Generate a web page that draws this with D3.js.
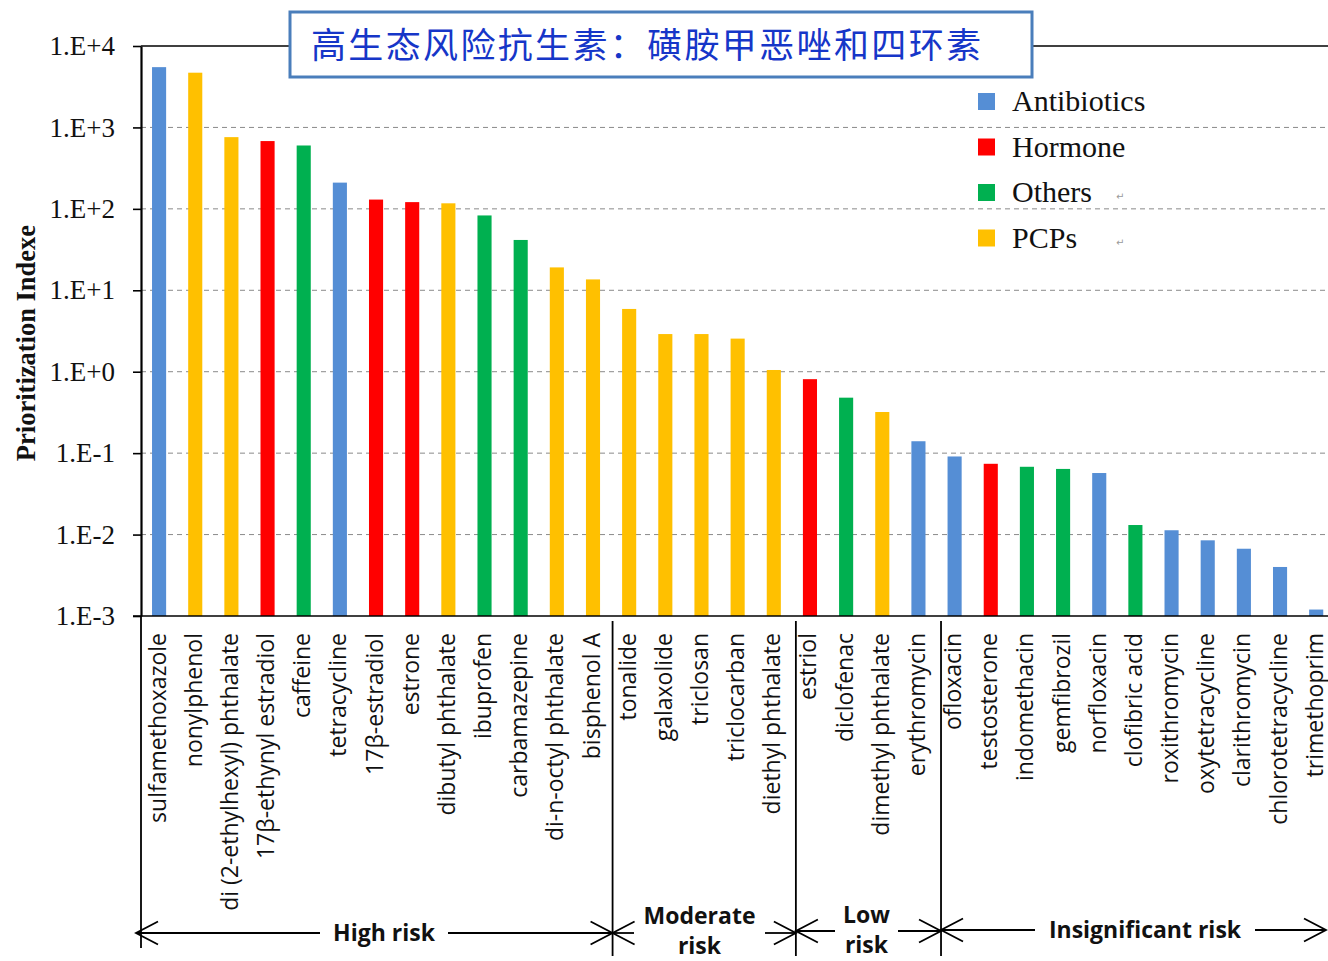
<!DOCTYPE html>
<html>
<head>
<meta charset="utf-8">
<script src="https://cdn.jsdelivr.net/npm/d3@7"></script>
<style>
  html, body { margin: 0; padding: 0; background: #fff; }
  svg { display: block; }
</style>
</head>
<body>
<svg id="chart" width="1328" height="961"></svg>
<script>
// Compounds ranked by prioritization index
const compounds = [
  "sulfamethoxazole", "nonylphenol", "di (2-ethylhexyl) phthalate", "17β-ethynyl estradiol",
  "caffeine", "tetracycline", "17β-estradiol", "estrone", "dibutyl phthalate", "ibuprofen",
  "carbamazepine", "di-n-octyl phthalate", "bisphenol A", "tonalide", "galaxolide", "triclosan",
  "triclocarban", "diethyl phthalate", "estriol", "diclofenac", "dimethyl phthalate",
  "erythromycin", "ofloxacin", "testosterone", "indomethacin", "gemfibrozil", "norfloxacin",
  "clofibric acid", "roxithromycin", "oxytetracycline", "clarithromycin", "chlorotetracycline",
  "trimethoprim"
];
const indexValues = [
  5500, 4700, 760, 680, 600, 210, 130, 121, 117, 83,
  41.5, 19.1, 13.6, 5.9, 2.9, 2.9, 2.55, 1.05, 0.81, 0.48,
  0.32, 0.14, 0.091, 0.074, 0.068, 0.064, 0.057, 0.0131, 0.0113, 0.0085,
  0.0067, 0.0040, 0.0012
];
const compoundClass = [
  "Antibiotics", "PCPs", "PCPs", "Hormone", "Others", "Antibiotics", "Hormone", "Hormone", "PCPs", "Others",
  "Others", "PCPs", "PCPs", "PCPs", "PCPs", "PCPs", "PCPs", "PCPs", "Hormone", "Others",
  "PCPs", "Antibiotics", "Antibiotics", "Hormone", "Others", "Others", "Antibiotics", "Others", "Antibiotics", "Antibiotics",
  "Antibiotics", "Antibiotics", "Antibiotics"
];
const classNames = ["Antibiotics", "Hormone", "Others", "PCPs"];
const classColors = ["#558ED5", "#FF0000", "#00B050", "#FFC000"];

const tickValues = [1e-3, 1e-2, 1e-1, 1, 1e1, 1e2, 1e3, 1e4];
const tickLabels = ["1.E-3", "1.E-2", "1.E-1", "1.E+0", "1.E+1", "1.E+2", "1.E+3", "1.E+4"];

// Risk bands: label lines and the last compound index in each band
const riskLabels = [["High risk"], ["Moderate", "risk"], ["Low", "risk"], ["Insignificant risk"]];
const riskLastIndex = [12, 17, 21, 32];

const titleText = "高生态风险抗生素：磺胺甲恶唑和四环素";
const yTitle = "Prioritization Indexe";

const svg = d3.select("#chart");
const plot = { left: 141, top: 46, bottom: 616, step: 36.16 };
plot.right = plot.left + plot.step * compounds.length;

const x = d3.scaleBand()
  .domain(compounds)
  .range([plot.left, plot.right])
  .paddingInner(0.61)
  .paddingOuter(0.305);

const y = d3.scaleLog()
  .domain([1e-3, 1e4])
  .range([plot.bottom, plot.top]);

const color = d3.scaleOrdinal().domain(classNames).range(classColors);

// dashed gridlines
svg.append("g")
  .selectAll("line")
  .data(tickValues.filter(v => v > 1e-3 && v < 1e4))
  .join("line")
  .attr("x1", plot.left).attr("x2", 1328)
  .attr("y1", d => y(d)).attr("y2", d => y(d))
  .attr("stroke", "#8a8a8a")
  .attr("stroke-width", 1)
  .attr("stroke-dasharray", "5,4");

// bars
svg.append("g")
  .selectAll("rect")
  .data(compounds)
  .join("rect")
  .attr("x", d => x(d))
  .attr("width", x.bandwidth())
  .attr("y", (d, i) => y(indexValues[i]))
  .attr("height", (d, i) => plot.bottom - y(indexValues[i]))
  .attr("fill", (d, i) => color(compoundClass[i]));

// top frame line
svg.append("line")
  .attr("x1", plot.left).attr("x2", 1328)
  .attr("y1", plot.top).attr("y2", plot.top)
  .attr("stroke", "#000").attr("stroke-width", 1.6);

// y axis
const yAxis = d3.axisLeft(y)
  .tickValues(tickValues)
  .tickFormat((d, i) => tickLabels[i])
  .tickSize(8)
  .tickSizeOuter(0)
  .tickPadding(18);
const gy = svg.append("g")
  .attr("transform", `translate(${plot.left},0)`)
  .call(yAxis);
gy.select(".domain").attr("stroke", "#000").attr("stroke-width", 2.2);
gy.selectAll(".tick line").attr("stroke", "#000").attr("stroke-width", 1.6);
gy.selectAll(".tick text")
  .attr("fill", "#111")
  .style("font-family", "'Liberation Serif', 'Times New Roman', serif")
  .style("font-size", "27px");

// x axis baseline
svg.append("line")
  .attr("x1", plot.left - 8).attr("x2", 1328)
  .attr("y1", plot.bottom).attr("y2", plot.bottom)
  .attr("stroke", "#000").attr("stroke-width", 1.6);

// y axis title
svg.append("text")
  .attr("transform", `translate(35,${(plot.top + plot.bottom) / 2 + 12}) rotate(-90)`)
  .attr("text-anchor", "middle")
  .style("font-family", "'Liberation Serif', 'Times New Roman', serif")
  .style("font-weight", "bold")
  .style("font-size", "26.5px")
  .attr("fill", "#111")
  .text(yTitle);

// category labels, rotated
svg.append("g")
  .selectAll("text")
  .data(compounds)
  .join("text")
  .attr("transform", d => `translate(${x(d) + x.bandwidth() / 2 + 6.5},${plot.bottom + 17}) rotate(-90)`)
  .attr("text-anchor", "end")
  .style("font-family", "'Open Sans', sans-serif")
  .style("font-size", "23px")
  .attr("fill", "#111")
  .text(d => d);

// risk band separators and arrows
const sepOffset = [0, 1.5, 4, 4.5];
const bandEdges = [plot.left];
riskLastIndex.forEach((idx, k) => {
  const edge = x(compounds[idx]) + x.bandwidth() / 2 + plot.step / 2;
  bandEdges.push(k === riskLastIndex.length - 1 ? 1326 : edge + sepOffset[k + 1]);
});

const ann = svg.append("g").attr("stroke", "#000").attr("stroke-width", 1.8).attr("fill", "none");
// left axis extension
ann.append("line").attr("x1", plot.left).attr("x2", plot.left).attr("y1", plot.bottom).attr("y2", 948);
for (let k = 1; k < bandEdges.length - 1; k++) {
  ann.append("line")
    .attr("x1", bandEdges[k]).attr("x2", bandEdges[k])
    .attr("y1", 621).attr("y2", 956);
}

const arrowY = [933, 933, 931, 930];
const firstLineDy = [8, -9, -8, 8];
const secondLineDy = [0, 21, 22, 0];
const textGap = [[320, 448], [634, 765], [835, 898], [1035, 1255]];
const headLen = 22, headHalf = 11.5;
function head(xTip, yTip, dir) {
  ann.append("path")
    .attr("d", `M${xTip + dir * headLen},${yTip - headHalf} L${xTip},${yTip} L${xTip + dir * headLen},${yTip + headHalf}`);
}
riskLabels.forEach((lines, k) => {
  const x0 = bandEdges[k], x1 = bandEdges[k + 1], ay = arrowY[k];
  const tipL = k === 0 ? x0 - 5 : x0;
  ann.append("line").attr("x1", tipL).attr("x2", textGap[k][0]).attr("y1", ay).attr("y2", ay);
  ann.append("line").attr("x1", textGap[k][1]).attr("x2", x1).attr("y1", ay).attr("y2", ay);
  head(tipL, ay, 1);
  head(x1, ay, -1);
  const cx = (textGap[k][0] + textGap[k][1]) / 2;
  lines.forEach((line, j) => {
    svg.append("text")
      .attr("x", cx)
      .attr("y", ay + (j === 0 ? firstLineDy[k] : secondLineDy[k]))
      .attr("text-anchor", "middle")
      .style("font-family", "'Open Sans', sans-serif")
      .style("font-weight", "bold")
      .style("font-size", "23px")
      .attr("fill", "#111")
      .text(line);
  });
});

// legend
const legend = svg.append("g").attr("transform", "translate(978,93)");
classNames.forEach((name, i) => {
  const g = legend.append("g").attr("transform", `translate(0,${i * 45.5})`);
  g.append("rect").attr("width", 17).attr("height", 17).attr("fill", classColors[i]);
  g.append("text")
    .attr("x", 34).attr("y", 18)
    .style("font-family", "'Liberation Serif', 'Times New Roman', serif")
    .style("font-size", "30px")
    .attr("fill", "#111")
    .text(name);
  if (i >= 2) {
    g.append("text")
      .attr("x", 138).attr("y", 16)
      .style("font-family", "'DejaVu Sans', sans-serif")
      .style("font-size", "10px")
      .attr("fill", "#9a9a9a")
      .text("↵");
  }
});

// title box
const title = svg.append("g");
title.append("rect")
  .attr("x", 290).attr("y", 12).attr("width", 742).attr("height", 65)
  .attr("fill", "#fff").attr("stroke", "#4A7EBB").attr("stroke-width", 3);
title.append("text")
  .attr("x", 311).attr("y", 58)
  .attr("textLength", 670)
  .style("font-family", "'Noto Sans CJK SC', sans-serif")
  .style("font-size", "35px")
  .attr("fill", "#1636C8")
  .text(titleText);
</script>
</body>
</html>
